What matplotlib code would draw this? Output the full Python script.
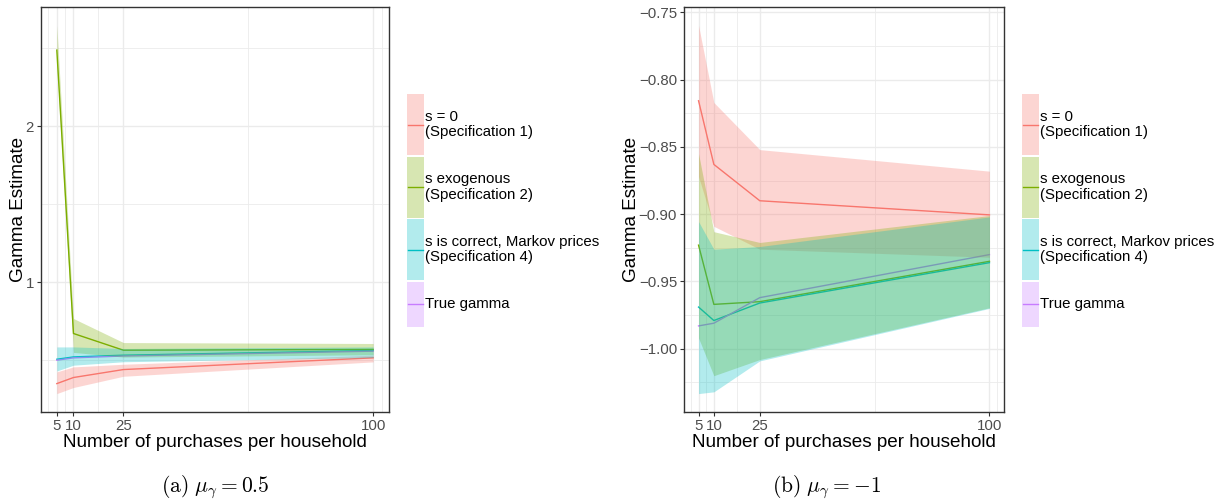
import numpy as np
import matplotlib
matplotlib.use("Agg")
import matplotlib.pyplot as plt
from matplotlib.patches import Rectangle

plt.rcParams['font.family'] = ['Liberation Sans', 'DejaVu Sans']
plt.rcParams['mathtext.fontset'] = 'cm'

# purchases per household
n_purchases = [5, 10, 25, 100]

# panel (a): mu_gamma = 0.5
a_s0_mean = [0.350, 0.389, 0.440, 0.515]
a_s0_lo = [0.286, 0.325, 0.397, 0.489]
a_s0_hi = [0.425, 0.457, 0.474, 0.532]
a_exo_mean = [2.487, 0.671, 0.564, 0.569]
a_exo_lo = [2.400, 0.550, 0.520, 0.535]
a_exo_hi = [2.645, 0.767, 0.613, 0.607]
a_markov_mean = [0.506, 0.521, 0.532, 0.562]
a_markov_lo = [0.431, 0.468, 0.490, 0.517]
a_markov_hi = [0.585, 0.585, 0.575, 0.585]
a_true = [0.500, 0.515, 0.527, 0.558]

# panel (b): mu_gamma = -1
b_s0_mean = [-0.8157, -0.863, -0.890, -0.9005]
b_s0_lo = [-0.872, -0.909, -0.926, -0.932]
b_s0_hi = [-0.7597, -0.817, -0.852, -0.868]
b_exo_mean = [-0.923, -0.967, -0.965, -0.935]
b_exo_lo = [-0.992, -1.020, -1.008, -0.9695]
b_exo_hi = [-0.855, -0.913, -0.921, -0.901]
b_markov_mean = [-0.969, -0.979, -0.966, -0.936]
b_markov_lo = [-1.0333, -1.032, -1.009, -0.970]
b_markov_hi = [-0.9055, -0.926, -0.924, -0.902]
b_true = [-0.983, -0.981, -0.962, -0.930]

legend_labels = ["s = 0\n(Specification 1)",
                 "s exogenous\n(Specification 2)",
                 "s is correct, Markov prices\n(Specification 4)",
                 "True gamma"]
colors = ['#F8766D', '#7CAE00', '#00BFC4', '#C77CFF']
ALPHA = 0.3

W, H = 1225, 504
fig = plt.figure(figsize=(W / 100, H / 100), dpi=100)


def style_axes(ax, ymaj, ymin_ticks, ylabels):
    ax.set_xticks(n_purchases)
    ax.set_xticklabels([str(v) for v in n_purchases])
    ax.set_xticks([2.5, 7.5, 17.5, 62.5, 102.5], minor=True)
    ax.set_yticks(ymaj)
    ax.set_yticklabels(ylabels)
    ax.set_yticks(ymin_ticks, minor=True)
    ax.grid(True, which='major', color='#EBEBEB', lw=1.0, zorder=0)
    ax.grid(True, which='minor', color='#EBEBEB', lw=0.6, zorder=0)
    ax.set_axisbelow(True)
    for sp in ax.spines.values():
        sp.set_color('#333333')
        sp.set_linewidth(1.0)
    ax.tick_params(which='major', length=3, width=0.8, color='#333333',
                   labelcolor='#4D4D4D', labelsize=10.8, pad=2)
    ax.tick_params(which='minor', length=0)
    ax.set_xlabel("Number of purchases per household", fontsize=13.6, labelpad=1)
    ax.set_ylabel("Gamma Estimate", fontsize=13.6, labelpad=-1)


def draw_panel(ax, series, true_vals):
    lows = [min(lo) for _, lo, _ in series]
    highs = [max(hi) for _, _, hi in series]
    ymin, ymax = min(lows + [min(true_vals)]), max(highs + [max(true_vals)])
    pad = 0.05 * (ymax - ymin)
    ax.set_ylim(ymin - pad, ymax + pad)
    ax.set_xlim(5 - 0.05 * 95, 100 + 0.05 * 95)
    for (mean, lo, hi), c in zip(series, colors):
        ax.plot(n_purchases, mean, color=c, lw=1.0, zorder=2)
    ax.plot(n_purchases, true_vals, color=colors[3], lw=1.0, zorder=2)
    for (mean, lo, hi), c in zip(series, colors):
        ax.fill_between(n_purchases, lo, hi, color=c, alpha=ALPHA, lw=0, zorder=3)


ax1 = fig.add_axes([41 / W, 1 - 412 / H, 348 / W, 405 / H])
draw_panel(ax1, [(a_s0_mean, a_s0_lo, a_s0_hi),
                 (a_exo_mean, a_exo_lo, a_exo_hi),
                 (a_markov_mean, a_markov_lo, a_markov_hi)], a_true)
style_axes(ax1, [1, 2], [0.5, 1.5, 2.5], ["1", "2"])

ax2 = fig.add_axes([684 / W, 1 - 412 / H, 320 / W, 405 / H])
draw_panel(ax2, [(b_s0_mean, b_s0_lo, b_s0_hi),
                 (b_exo_mean, b_exo_lo, b_exo_hi),
                 (b_markov_mean, b_markov_lo, b_markov_hi)], b_true)
bmaj = [-1.00, -0.95, -0.90, -0.85, -0.80, -0.75]
style_axes(ax2, bmaj, [-1.025, -0.975, -0.925, -0.875, -0.825, -0.775],
           [("%.2f" % v).replace('-', '\u2212') for v in bmaj])

# legends, drawn in pixel coordinates on an overlay
lax = fig.add_axes([0, 0, 1, 1])
lax.set_xlim(0, W)
lax.set_ylim(H, 0)
lax.axis('off')
for key_x in (407, 1022):
    top = 94
    for label, c in zip(legend_labels, colors):
        kh = 61 if '\n' in label else 45
        lax.add_patch(Rectangle((key_x, top), 17, kh, facecolor=c, alpha=ALPHA, lw=0))
        mid = top + kh / 2
        lax.plot([key_x + 1, key_x + 16], [mid, mid], color=c, lw=1.0)
        lax.text(key_x + 18, mid, label, fontsize=10.8, color='black',
                 va='center', ha='left', linespacing=1.15)
        top += kh + 1.5

fig.text(215 / W, 1 - 487 / H, r"$\mathrm{(a)}\ \mu_\gamma = 0.5$", fontsize=15.5,
         ha='center', va='center')
fig.text(827 / W, 1 - 487 / H, r"$\mathrm{(b)}\ \mu_\gamma = -1$", fontsize=15.5,
         ha='center', va='center')

fig.savefig("out.png", dpi=100)
